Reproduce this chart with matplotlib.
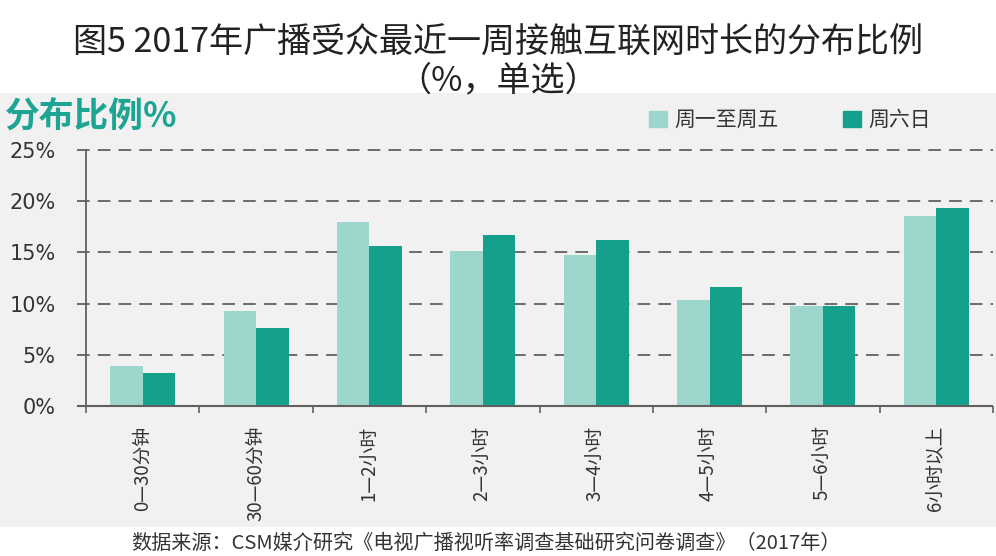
import matplotlib.pyplot as plt
import numpy as np
from matplotlib.patches import Rectangle

plt.rcParams['font.family'] = ['Noto Sans CJK SC', 'DejaVu Sans']

# --- DATOS ---
categorias = ['0—30分钟', '30—60分钟', '1—2小时', '2—3小时', '3—4小时',
              '4—5小时', '5—6小时', '6小时以上']
entre_semana = [3.9, 9.3, 18.0, 15.1, 14.7, 10.4, 9.8, 18.6]
fin_semana = [3.2, 7.6, 15.6, 16.7, 16.2, 11.6, 9.8, 19.3]
series = ['周一至周五', '周六日']
ticks_y = [0, 5, 10, 15, 20, 25]

c_claro = '#9dd6cd'
c_oscuro = '#14a08b'
c_texto = '#333333'

fig = plt.figure(figsize=(9.96, 5.56), dpi=100)
fig.patch.set_facecolor('white')

# fondo gris de la zona del grafico
fondo = fig.add_axes([0, 1 - 527 / 556, 1, (527 - 93) / 556], zorder=-1)
fondo.axis('off')
fondo.add_patch(Rectangle((0, 0), 1, 1, transform=fondo.transAxes,
                          facecolor='#f1f1f1', edgecolor='none'))

ax = fig.add_axes([86 / 996, 1 - 406 / 556, (993 - 86) / 996, 256 / 556])
ax.set_facecolor('none')

x = np.arange(len(categorias))
ancho = 0.287
ax.bar(x - ancho / 2, entre_semana, ancho, color=c_claro, zorder=3)
ax.bar(x + ancho / 2, fin_semana, ancho, color=c_oscuro, zorder=3)

ax.set_xlim(-0.5, len(categorias) - 0.5)
ax.set_ylim(0, 25)

# lineas de cuadricula discontinuas
for v in ticks_y[1:]:
    ax.hlines(v, -0.58, len(categorias) - 0.5, colors='#606060',
              linestyles=(0, (7, 4.5)), linewidth=1.3, clip_on=False, zorder=2)
ax.hlines(0, -0.58, len(categorias) - 0.5, colors='#606060', linewidth=1.5,
          clip_on=False, zorder=4)

for s in ['top', 'right', 'bottom']:
    ax.spines[s].set_visible(False)
ax.spines['left'].set_color('#606060')
ax.spines['left'].set_linewidth(1.3)

ax.set_yticks(ticks_y)
ax.set_yticklabels([f'{v}%' for v in ticks_y], fontsize=15, color=c_texto,
                   family=['DejaVu Sans'])
ax.tick_params(axis='y', length=0, pad=22)

# ticks del eje x en los limites entre categorias
ax.set_xticks(np.arange(-0.5, len(categorias), 1.0), minor=True)
ax.set_xticks(x)
ax.set_xticklabels(categorias, rotation=90, fontsize=13.5, color=c_texto,
                   va='top', ha='center')
ax.tick_params(axis='x', which='major', length=0, pad=14)
ax.tick_params(axis='x', which='minor', length=5, color='#606060', width=1.2)

# titulos
fig.text(0.5, 1 - 43 / 556, '图5 2017年广播受众最近一周接触互联网时长的分布比例',
         ha='center', va='center', fontsize=24.5, color='#222222')
fig.text(0.5, 1 - 81 / 556, '（%，单选）', ha='center', va='center',
         fontsize=24.5, color='#222222')
fig.text(5 / 996, 1 - 116 / 556, '分布比例%', ha='left', va='center',
         fontsize=25, fontweight='bold', color='#1ea493')

# leyenda
ax.legend(handles=[Rectangle((0, 0), 1, 1, color=c_claro),
                   Rectangle((0, 0), 1, 1, color=c_oscuro)],
          labels=series, loc='lower left', bbox_to_anchor=(0.6, 1.0),
          ncol=2, frameon=False, fontsize=15, handlelength=0.85,
          handleheight=0.85, columnspacing=3.1, handletextpad=0.35,
          labelcolor=c_texto)

fig.text(486 / 996, 1 - 543 / 556,
         '数据来源：CSM媒介研究《电视广播视听率调查基础研究问卷调查》（2017年）',
         ha='center', va='center', fontsize=14.5, color=c_texto)

fig.savefig('out.png', dpi=100)
